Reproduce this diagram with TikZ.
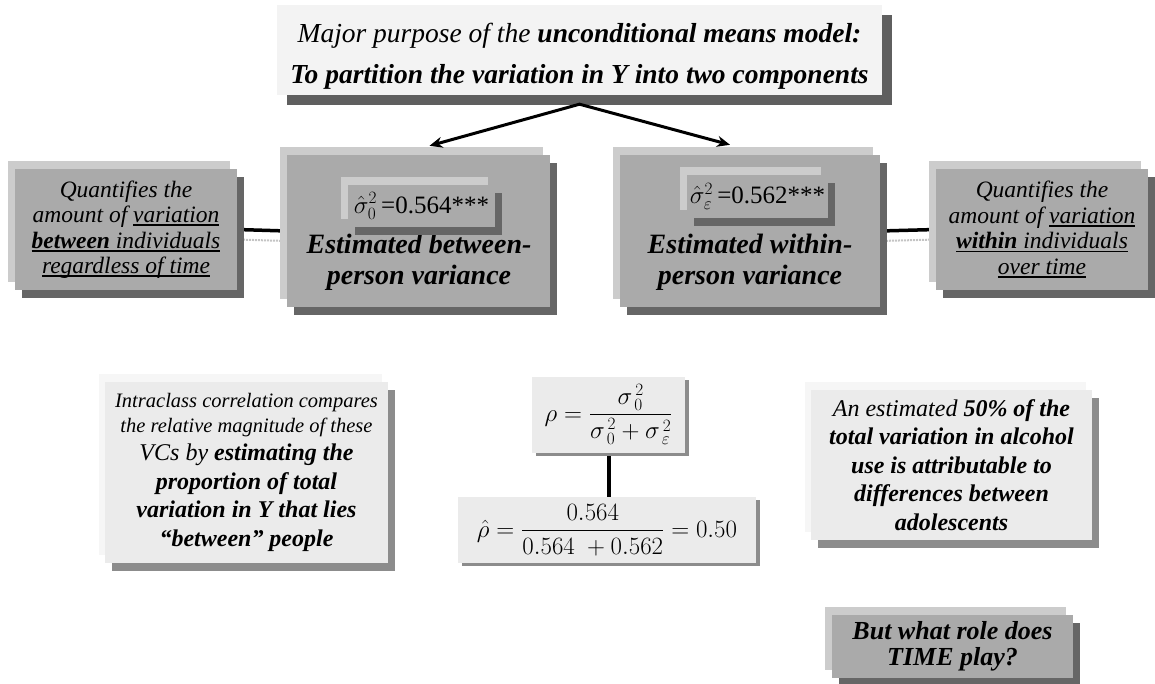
\documentclass[tikz,border=0pt]{standalone}
\usepackage{amsmath}
\usepackage{fontspec}
\setmainfont{Liberation Serif}
\usetikzlibrary{shadows,arrows.meta}
\pgfdeclarelayer{background}
\pgfsetlayers{background,main}
\definecolor{boxmid}{HTML}{AAAAAA}
\definecolor{boxhl}{HTML}{CCCCCC}
\definecolor{boxdk}{HTML}{666666}
\definecolor{topfill}{HTML}{F3F3F3}
\definecolor{topdk}{HTML}{5F5F5F}
\definecolor{lightfill}{HTML}{EBEBEB}
\definecolor{lighthl}{HTML}{F6F6F6}
\definecolor{lightdk}{HTML}{8C8C8C}
\definecolor{lineshade}{HTML}{C4C4C4}
\newsavebox\ulsave
\newcommand{\ulbox}[1]{\sbox\ulsave{#1}\rlap{\rule[-3.5pt]{\wd\ulsave}{1.6pt}}\usebox\ulsave}
\begin{document}
\begin{tikzpicture}[x=1pt,y=-1pt,
  plain/.style={draw=none, inner sep=0pt, align=center},
  raised/.style={plain, fill=boxmid,
    general shadow={shadow xshift=-7pt, shadow yshift=8pt, fill=boxhl, draw=none, opacity=1},
    general shadow={shadow xshift=7pt, shadow yshift=-8pt, fill=boxdk, draw=none, opacity=1}},
  pale/.style={plain, fill=lightfill,
    general shadow={shadow xshift=-6pt, shadow yshift=8pt, fill=lighthl, draw=none, opacity=1},
    general shadow={shadow xshift=7pt, shadow yshift=-8pt, fill=lightdk, draw=none, opacity=1}},
  formula/.style={plain, fill=lightfill,
    general shadow={shadow xshift=4pt, shadow yshift=-3pt, fill=lightdk, draw=none, opacity=1}},
  conn/.style={line width=3.5pt, black},
  connshade/.style={line width=2pt, lineshade, dash pattern=on 2pt off 1pt},
  arr/.style={line width=3pt, black, line join=miter, {Stealth[length=13pt,width=11pt]}-{Stealth[length=13pt,width=11pt]}}
]
\useasboundingbox (0,0) rectangle (1155,683);

% top box
\node[plain, fill=topfill, minimum width=605pt, minimum height=90pt,
  general shadow={shadow xshift=10pt, shadow yshift=-10pt, fill=topdk, draw=none, opacity=1}] (top) at (579.5,50) {};
\node[plain, font=\fontsize{27.5}{41}\selectfont] (toptxt) at (579.5,56)
  {\textit{Major purpose of the \textbf{unconditional means model:}}\\\textbf{\textit{To partition the variation in Y into two components}}};

% left side
\node[raised, minimum width=222pt, minimum height=121pt, font=\fontsize{23.5}{25.5}\selectfont\itshape] (qL) at (126,229.5)
  {Quantifies the\\amount of \ulbox{variation}\\\ulbox{\textbf{between} individuals}\\\ulbox{regardless of time}};
\node[raised, minimum width=263pt, minimum height=152pt] (bL) at (418.5,231) {};
\node[plain, font=\fontsize{28}{31}\selectfont\bfseries\itshape] (bLt) at (419,262) {Estimated between-\\person variance};
\node[raised, minimum width=147pt, minimum height=42pt, font=\fontsize{25}{26}\selectfont] (iL) at (421.5,206) {$\hat{\sigma}_0^2$\,=0.564***};

% right side
\node[raised, minimum width=260pt, minimum height=152pt] (bR) at (750,231) {};
\node[plain, font=\fontsize{28}{31}\selectfont\bfseries\itshape] (bRt) at (750,262) {Estimated within-\\person variance};
\node[raised, minimum width=141pt, minimum height=43pt, font=\fontsize{25}{26}\selectfont] (iR) at (757.5,196.5) {$\hat{\sigma}_\varepsilon^2$\,=0.562***};
\node[raised, minimum width=212pt, minimum height=121pt, font=\fontsize{23.5}{25.5}\selectfont\itshape] (qR) at (1042,229.5)
  {Quantifies the\\amount of \ulbox{variation}\\\ulbox{\textbf{within} individuals}\\\ulbox{over time}};

% bottom row
\node[pale, minimum width=283pt, minimum height=181pt, font=\fontsize{24}{28.5}\selectfont\itshape] (icc) at (246.5,472.5)
  {{\fontsize{20.5}{24}\selectfont Intraclass correlation compares}\\[-4pt]{\fontsize{20.5}{24}\selectfont the relative magnitude of these}\\VCs by \textbf{estimating the}\\\textbf{proportion of total}\\\textbf{variation in Y that lies}\\\textbf{“between” people}};
\node[formula, minimum width=153pt, minimum height=76pt, font=\fontsize{25}{26}\selectfont] (rho) at (608.5,414.5)
  {$\rho = \dfrac{\sigma^{\,2}_{\,0}}{\sigma^{\,2}_{\,0}+\sigma^{\,2}_{\,\varepsilon}}$};
\node[formula, minimum width=298pt, minimum height=66pt, font=\fontsize{25}{26}\selectfont] (rhohat) at (607,530)
  {$\hat{\rho} = \dfrac{0.564}{0.564\;+0.562} = 0.50$};
\node[pale, minimum width=281pt, minimum height=150pt, font=\fontsize{24}{28.5}\selectfont\itshape] (pct) at (951.5,465)
  {An estimated \textbf{50\% of the}\\\textbf{total variation in alcohol}\\\textbf{use is attributable to}\\\textbf{differences between}\\\textbf{adolescents}};
\node[raised, minimum width=241pt, minimum height=63pt, font=\fontsize{26}{26}\selectfont\bfseries\itshape] (time) at (952.5,646.5)
  {But what role does\\TIME play?};

% connectors
\coordinate (apex) at ([yshift=-9pt]top.south);
\begin{pgfonlayer}{background}
\draw[conn] (qL.east) -- (bL.west);
\draw[connshade] ([yshift=-10pt]qL.east) -- ([yshift=-10pt]bL.west);
\draw[conn] (bR.east) -- (qR.west);
\draw[connshade] ([yshift=-10pt]bR.east) -- ([yshift=-10pt]qR.west);
\draw[conn, line width=4pt] (rho.south) -- (rho.south |- rhohat.north);
\end{pgfonlayer}
\draw[arr] ([xshift=11pt,yshift=9pt]bL.north) -- (apex) -- ([xshift=-20pt,yshift=10pt]bR.north);
\end{tikzpicture}
\end{document}
